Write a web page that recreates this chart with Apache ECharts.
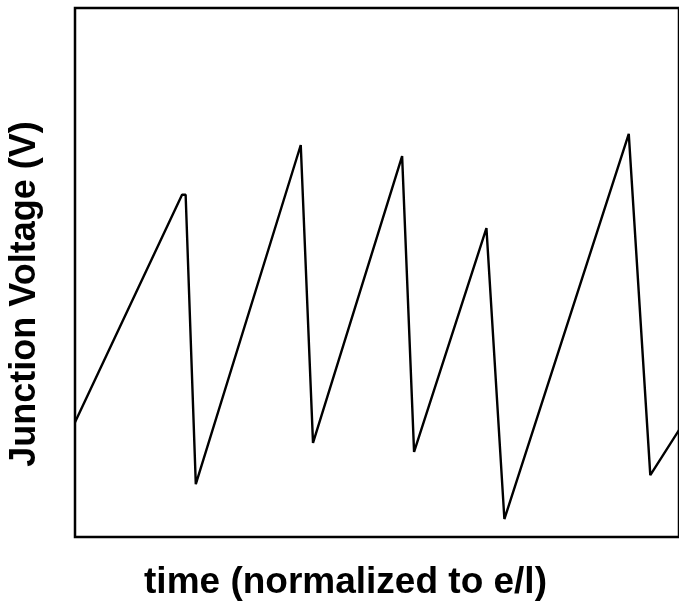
<!DOCTYPE html>
<html>
<head>
<meta charset="utf-8">
<script src="https://cdn.jsdelivr.net/npm/echarts@6/dist/echarts.min.js"></script>
<style>
html,body{margin:0;padding:0;background:#fff;}
#chart{width:679px;height:603px;}
</style>
</head>
<body>
<div id="chart"></div>
<script>
// time (arbitrary normalized units) and junction voltage (arbitrary units)
var timeValues = [0, 17.9, 18.5, 20.2, 37.75, 39.8, 54.7, 56.7, 68.8, 71.8, 92.6, 96.2, 101];
var voltageValues = [21.7, 64.7, 64.7, 10.0, 74.1, 17.8, 72.0, 16.1, 58.4, 3.4, 76.2, 11.7, 20.2];
var xTitle = 'time (normalized to e/l)';
var yTitle = 'Junction Voltage (V)';

var points = timeValues.map(function (t, i) { return [t, voltageValues[i]]; });

var chart = echarts.init(document.getElementById('chart'), null, {renderer: 'canvas'});
chart.setOption({
  animation: false,
  backgroundColor: '#ffffff',
  grid: {
    left: 75, right: -2, top: 8, bottom: 66,
    show: true, borderColor: '#000', borderWidth: 2.5, backgroundColor: 'transparent'
  },
  xAxis: {
    type: 'value', min: 0, max: 101,
    axisLine: {show: false}, axisTick: {show: false}, axisLabel: {show: false}, splitLine: {show: false}
  },
  yAxis: {
    type: 'value', min: 0, max: 100,
    axisLine: {show: false}, axisTick: {show: false}, axisLabel: {show: false}, splitLine: {show: false}
  },
  graphic: [
    {
      type: 'text', x: 345.5, y: 583,
      style: {text: xTitle, font: 'bold 37px "Liberation Sans", Arial, sans-serif', fill: '#000',
        textAlign: 'center', textVerticalAlign: 'middle'}
    },
    {
      type: 'text', x: 25, y: 294, rotation: Math.PI / 2,
      style: {text: yTitle, font: 'bold 36px "Liberation Sans", Arial, sans-serif', fill: '#000',
        textAlign: 'center', textVerticalAlign: 'middle'}
    }
  ],
  series: [{
    type: 'line', data: points, showSymbol: false, symbol: 'none',
    lineStyle: {color: '#000', width: 2.4}, clip: true
  }]
});
</script>
</body>
</html>
